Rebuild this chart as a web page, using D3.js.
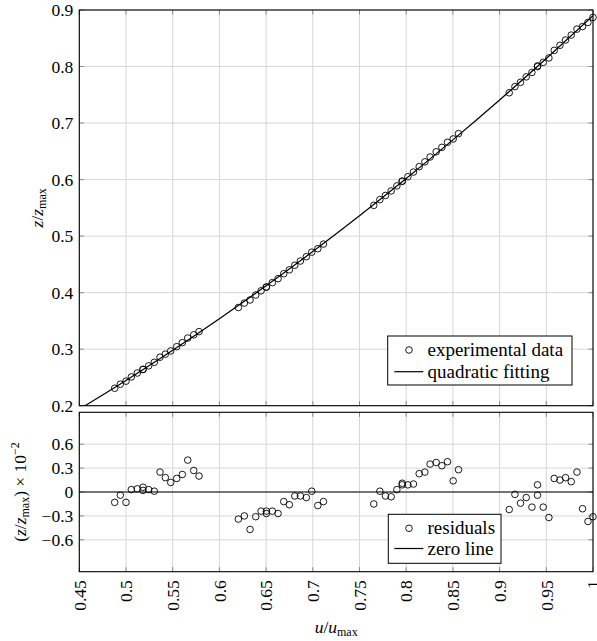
<!DOCTYPE html>
<html><head><meta charset="utf-8">
<script src="https://cdn.jsdelivr.net/npm/d3@7"></script>
<style>
html,body{margin:0;padding:0;background:#fff;}
svg text{font-family:"Liberation Serif","DejaVu Serif",serif !important;}
</style></head>
<body>
<svg id="chart" width="597" height="641"></svg>
<script>
const uValues = [
0.4879,0.4939,0.5000,0.5057,0.5121,0.5182,0.5182,0.5243,0.5303,0.5364,0.5421,0.5479,0.5543,0.5603,0.5661,0.5725,0.5782,
0.6203,0.6267,0.6328,0.6389,0.6446,0.6503,0.6503,0.6567,0.6628,0.6689,0.6749,0.6807,0.6867,0.6931,0.6989,0.7054,0.7114,
0.7653,0.7718,0.7778,0.7839,0.7900,0.7957,0.7957,0.8018,0.8078,0.8139,0.8200,0.8256,0.8321,0.8382,0.8442,0.8503,0.8560,
0.9103,0.9164,0.9224,0.9285,0.9346,0.9406,0.9406,0.9467,0.9528,0.9585,0.9646,0.9706,0.9767,0.9828,0.9888,0.9946,1.0000];
const zValues = [
0.2309,0.2380,0.2434,0.2509,0.2578,0.2644,0.2640,0.2705,0.2768,0.2858,0.2912,0.2969,0.3044,0.3115,0.3197,0.3254,0.3311,
0.3737,0.3815,0.3870,0.3958,0.4032,0.4100,0.4097,0.4177,0.4247,0.4335,0.4404,0.4485,0.4559,0.4636,0.4716,0.4778,0.4859,
0.5544,0.5646,0.5719,0.5799,0.5888,0.5971,0.5972,0.6051,0.6133,0.6229,0.6314,0.6400,0.6492,0.6571,0.6660,0.6719,0.6813,
0.7536,0.7645,0.7721,0.7817,0.7895,0.8011,0.7999,0.8074,0.8152,0.8286,0.8376,0.8469,0.8556,0.8662,0.8707,0.8780,0.8869];
const residValues = [
-0.13,-0.04,-0.13,0.03,0.04,0.06,0.02,0.03,0.01,0.25,0.18,0.12,0.17,0.22,0.40,0.27,0.20,
-0.34,-0.30,-0.47,-0.31,-0.24,-0.24,-0.27,-0.24,-0.27,-0.12,-0.16,-0.05,-0.05,-0.07,0.01,-0.17,-0.12,
-0.15,0.01,-0.05,-0.06,0.03,0.09,0.11,0.09,0.10,0.23,0.25,0.35,0.37,0.33,0.38,0.14,0.28,
-0.22,-0.03,-0.14,-0.07,-0.19,0.09,-0.04,-0.19,-0.32,0.17,0.15,0.18,0.13,0.25,-0.21,-0.37,-0.31];
const fitU = [0.45,0.50,0.55,0.60,0.65,0.70,0.75,0.80,0.85,0.90,0.95,1.00];
const fitZ = [0.1939,0.2447,0.2980,0.3538,0.4120,0.4728,0.5361,0.6019,0.6702,0.7409,0.8142,0.8900];
const zeroU = [0.45,1.00];
const zeroR = [0,0];
const xTicks = [0.45,0.5,0.55,0.6,0.65,0.7,0.75,0.8,0.85,0.9,0.95,1];
const xTickLabels = ["0.45","0.5","0.55","0.6","0.65","0.7","0.75","0.8","0.85","0.9","0.95","1"];
const yTopTicks = [0.2,0.3,0.4,0.5,0.6,0.7,0.8,0.9];
const yTopLabels = ["0.2","0.3","0.4","0.5","0.6","0.7","0.8","0.9"];
const yBotTicks = [-0.6,-0.3,0,0.3,0.6];
const yBotLabels = ["\u22120.6","\u22120.3","0","0.3","0.6"];
const legendTop = ["experimental data","quadratic fitting"];
const legendBot = ["residuals","zero line"];

const FONT = "Liberation Serif";
const svg = d3.select("#chart");
const L = 79.3, R = 593;
const top1 = 10, bot1 = 405.7, top2 = 412.3, bot2 = 571.7;
const x = d3.scaleLinear().domain([0.45,1]).range([L,R]);
const yT = d3.scaleLinear().domain([0.2,0.9]).range([bot1,top1]);
const yB = d3.scaleLinear().domain([-1,1]).range([bot2,top2]);
const gridC = "#d6d6d6", tickC = "#8a8a8a", FS = 17.5;

function panel(y, yTicks, yLabels, t, b, id){
  const g = svg.append("g");
  g.append("g").selectAll("line").data(xTicks).join("line")
    .attr("x1",d=>x(d)).attr("x2",d=>x(d)).attr("y1",t).attr("y2",b)
    .attr("stroke",gridC).attr("stroke-width",1);
  g.append("g").selectAll("line").data(yTicks).join("line")
    .attr("x1",L).attr("x2",R).attr("y1",d=>y(d)).attr("y2",d=>y(d))
    .attr("stroke",gridC).attr("stroke-width",1);
  const tk = g.append("g").attr("stroke",tickC).attr("stroke-width",1);
  xTicks.forEach(d=>{
    tk.append("line").attr("x1",x(d)).attr("x2",x(d)).attr("y1",t).attr("y2",t+4.5);
    tk.append("line").attr("x1",x(d)).attr("x2",x(d)).attr("y1",b).attr("y2",b-4.5);
  });
  yTicks.forEach(d=>{
    tk.append("line").attr("x1",L).attr("x2",L+4.5).attr("y1",y(d)).attr("y2",y(d));
    tk.append("line").attr("x1",R).attr("x2",R-4.5).attr("y1",y(d)).attr("y2",y(d));
  });
  const ax = d3.axisLeft(y).tickValues(yTicks).tickFormat((d,i)=>yLabels[i]).tickSize(0).tickPadding(6);
  const ag = g.append("g").attr("transform",`translate(${L},0)`).call(ax);
  ag.attr("font-family",FONT).attr("font-size",FS);
  ag.select(".domain").remove();
  ag.selectAll("text").attr("font-size",FS).attr("fill","#000");
  svg.append("clipPath").attr("id",id).append("rect")
    .attr("x",L).attr("y",t).attr("width",R-L).attr("height",b-t);
  return g;
}

panel(yT, yTopTicks, yTopLabels, top1, bot1, "c1");
panel(yB, yBotTicks, yBotLabels, top2, bot2, "c2");

const fitData = fitU.map((u,i)=>[u,fitZ[i]]);
svg.append("path").datum(fitData).attr("clip-path","url(#c1)")
  .attr("d", d3.line().x(d=>x(d[0])).y(d=>yT(d[1])).curve(d3.curveNatural))
  .attr("fill","none").attr("stroke","#000").attr("stroke-width",1.2);
svg.append("g").selectAll("circle").data(uValues.map((u,i)=>[u,zValues[i]])).join("circle")
  .attr("cx",d=>x(d[0])).attr("cy",d=>yT(d[1])).attr("r",3.3)
  .attr("fill","none").attr("stroke","#000").attr("stroke-width",0.9);

svg.append("path").datum(zeroU.map((u,i)=>[u,zeroR[i]]))
  .attr("d", d3.line().x(d=>x(d[0])).y(d=>yB(d[1])))
  .attr("stroke","#000").attr("stroke-width",1.2);
svg.append("g").selectAll("circle").data(uValues.map((u,i)=>[u,residValues[i]])).join("circle")
  .attr("cx",d=>x(d[0])).attr("cy",d=>yB(d[1])).attr("r",3.3)
  .attr("fill","none").attr("stroke","#000").attr("stroke-width",0.9);

[[top1,bot1],[top2,bot2]].forEach(([t,b])=>{
  svg.append("rect").attr("x",L).attr("y",t).attr("width",R-L).attr("height",b-t)
    .attr("fill","none").attr("stroke","#000").attr("stroke-width",1.1);
});

const xa = d3.axisBottom(x).tickValues(xTicks).tickFormat((d,i)=>xTickLabels[i]).tickSize(0);
const xg = svg.append("g").attr("transform",`translate(0,${bot2})`).call(xa);
xg.attr("font-family",FONT).attr("font-size",FS);
xg.select(".domain").remove();
xg.selectAll("text").attr("fill","#000")
  .attr("transform","rotate(-90)").attr("text-anchor","end").attr("x",-8.5).attr("y",0).attr("dy","0.33em");

function legend(x0,y0,w,h,labels,rowY,lineRowY){
  const g = svg.append("g").attr("font-family",FONT);
  g.append("rect").attr("x",x0).attr("y",y0).attr("width",w).attr("height",h)
    .attr("fill","#fff").attr("stroke","#000").attr("stroke-width",1);
  g.append("circle").attr("cx",409).attr("cy",rowY).attr("r",3.3)
    .attr("fill","none").attr("stroke","#000").attr("stroke-width",0.9);
  g.append("line").attr("x1",394.3).attr("x2",423.3).attr("y1",lineRowY).attr("y2",lineRowY)
    .attr("stroke","#000").attr("stroke-width",1.2);
  g.append("text").attr("x",427.5).attr("y",rowY).attr("dy","0.32em").attr("font-size",19).text(labels[0]);
  g.append("text").attr("x",427.5).attr("y",lineRowY).attr("dy","0.32em").attr("font-size",19).text(labels[1]);
}
legend(387.7,336,184.3,49,legendTop,350,371.7);
legend(388.3,514.3,112.7,49,legendBot,528.3,548.5);

const xt = svg.append("text").attr("x",(L+R)/2).attr("y",633).attr("text-anchor","middle").attr("font-size",FS).attr("font-family",FONT);
xt.append("tspan").attr("font-style","italic").text("u");
xt.append("tspan").text("/");
xt.append("tspan").attr("font-style","italic").text("u");
xt.append("tspan").attr("font-size",12).attr("dy",3).text("max");

const yt = svg.append("text").attr("transform",`translate(43,${(top1+bot1)/2}) rotate(-90)`)
  .attr("text-anchor","middle").attr("font-size",FS).attr("font-family",FONT);
yt.append("tspan").attr("font-style","italic").text("z");
yt.append("tspan").text("/");
yt.append("tspan").attr("font-style","italic").text("z");
yt.append("tspan").attr("font-size",12).attr("dy",3).text("max");

const yb = svg.append("text").attr("transform",`translate(26,492) rotate(-90)`)
  .attr("text-anchor","middle").attr("font-size",FS).attr("font-family",FONT);
yb.append("tspan").text("(");
yb.append("tspan").attr("font-style","italic").text("z");
yb.append("tspan").text("/");
yb.append("tspan").attr("font-style","italic").text("z");
yb.append("tspan").attr("font-size",12).attr("dy",3).text("max");
yb.append("tspan").attr("dy",-3).text(") \u00d7 10");
yb.append("tspan").attr("font-size",12).attr("dy",-7).text("\u22122");
</script>
</body></html>
